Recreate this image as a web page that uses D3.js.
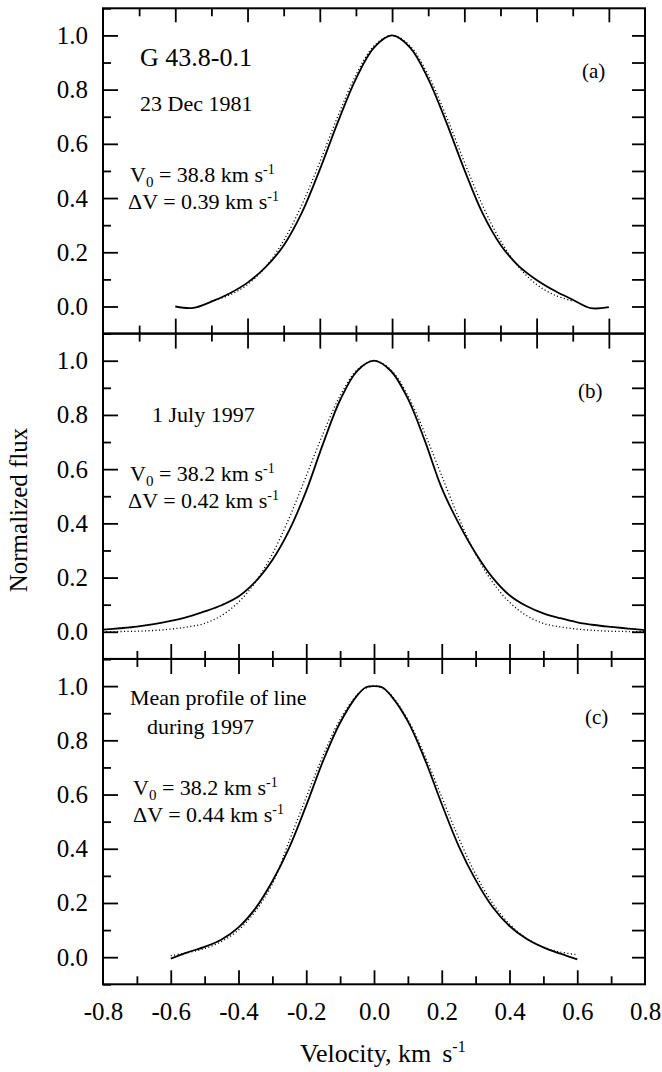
<!DOCTYPE html>
<html>
<head>
<meta charset="utf-8">
<script src="https://cdn.jsdelivr.net/npm/d3@7"></script>
<style>
  html, body { margin: 0; padding: 0; background: #fff; }
  svg { display: block; }
  text { font-family: "Liberation Serif", "Times New Roman", serif; fill: #000; }
</style>
</head>
<body>
<svg id="chart" width="662" height="1072"></svg>
<script>
// ---- Panel (a): 23 Dec 1981 ----
const velA = [-0.60,-0.55,-0.50,-0.45,-0.40,-0.35,-0.30,-0.25,-0.20,-0.15,-0.10,-0.05,0.00,
              0.05,0.10,0.15,0.20,0.25,0.30,0.35,0.40,0.45,0.50,0.55,0.60];
const obsA = [0.000,-0.005,0.018,0.048,0.088,0.145,0.225,0.345,0.505,0.680,0.840,0.955,1.000,
              0.955,0.840,0.680,0.505,0.345,0.228,0.150,0.098,0.058,0.025,-0.006,-0.002];
const velFitA = [-0.50,-0.45,-0.40,-0.35,-0.30,-0.25,-0.20,-0.15,-0.10,-0.05,0.00,
                 0.05,0.10,0.15,0.20,0.25,0.30,0.35,0.40,0.45,0.50];
const fitA = [0.020,0.042,0.081,0.146,0.243,0.374,0.533,0.702,0.854,0.961,1.000,
              0.961,0.854,0.702,0.533,0.374,0.243,0.146,0.081,0.042,0.020];

// ---- Panel (b): 1 July 1997 ----
const velB = [-0.80,-0.75,-0.70,-0.65,-0.60,-0.55,-0.50,-0.45,-0.40,-0.35,-0.30,-0.25,-0.20,-0.15,-0.10,-0.05,0.00,
              0.05,0.10,0.15,0.20,0.25,0.30,0.35,0.40,0.45,0.50,0.55,0.60,0.65,0.70,0.75,0.80];
const obsB = [0.008,0.013,0.019,0.028,0.040,0.055,0.075,0.098,0.130,0.185,0.265,0.375,0.520,0.695,0.855,0.962,1.000,
              0.962,0.860,0.705,0.530,0.400,0.290,0.200,0.135,0.095,0.068,0.050,0.035,0.025,0.018,0.012,0.006];
const fitB = [0.000,0.001,0.002,0.005,0.010,0.018,0.031,0.060,0.109,0.183,0.287,0.421,0.575,0.732,0.871,0.966,1.000,
              0.966,0.871,0.732,0.575,0.421,0.287,0.183,0.109,0.060,0.031,0.018,0.010,0.005,0.002,0.001,0.000];

// ---- Panel (c): mean profile during 1997 ----
const velC = [-0.60,-0.55,-0.50,-0.45,-0.40,-0.35,-0.30,-0.25,-0.20,-0.15,-0.10,-0.05,-0.025,0.00,
              0.025,0.05,0.10,0.15,0.20,0.25,0.30,0.35,0.40,0.45,0.50,0.55,0.60];
const obsC = [-0.005,0.018,0.038,0.065,0.110,0.180,0.280,0.405,0.560,0.725,0.865,0.965,0.995,1.000,
              0.995,0.965,0.870,0.730,0.565,0.410,0.285,0.185,0.115,0.068,0.036,0.013,-0.008];
const fitC = [0.006,0.017,0.032,0.058,0.100,0.170,0.270,0.430,0.590,0.745,0.877,0.968,0.992,1.000,
              0.992,0.968,0.877,0.744,0.591,0.440,0.306,0.199,0.122,0.070,0.037,0.019,0.009];

// ---- Axis ticks and labels ----
const velTicksA = [-0.7,-0.6,-0.5,-0.4,-0.3,-0.2,-0.1,0.0,0.1,0.2,0.3,0.4,0.5,0.6];
const velTicks = [-0.7,-0.6,-0.5,-0.4,-0.3,-0.2,-0.1,0.0,0.1,0.2,0.3,0.4,0.5,0.6,0.7];
const velLabelValues = [-0.8,-0.6,-0.4,-0.2,0.0,0.2,0.4,0.6,0.8];
const velLabels = ["-0.8","-0.6","-0.4","-0.2","0.0","0.2","0.4","0.6","0.8"];
const fluxMajor = [0.0,0.2,0.4,0.6,0.8,1.0];
const fluxLabels = ["0.0","0.2","0.4","0.6","0.8","1.0"];
const fluxMinor = [-0.1,0.1,0.3,0.5,0.7,0.9,1.1];
const fluxRight = [0.0,0.1,0.2,0.3,0.4,0.5,0.6,0.7,0.8,0.9,1.0];

// ---- Layout ----
const svg = d3.select("#chart");
const left = 103, right = 645;
const panelTops = [8.3, 333.6, 659];
const panelH = 325.3;
const FONT = "'Liberation Serif','Times New Roman',serif";
const TICK_FONT = 25;

const xA = d3.scaleLinear().domain([-0.8, 0.7]).range([left, right]);
const xBC = d3.scaleLinear().domain([-0.8, 0.8]).range([left, right]);

const panels = [
  { x: xA,  top: panelTops[0], vObs: velA, obs: obsA, vFit: velFitA, fit: fitA },
  { x: xBC, top: panelTops[1], vObs: velB, obs: obsB, vFit: velB,    fit: fitB },
  { x: xBC, top: panelTops[2], vObs: velC, obs: obsC, vFit: velC,    fit: fitC }
];

const isMajor = v => Math.round(v * 10) % 2 === 0;

function tickAxis(gen, scale, values, size, transform) {
  const g = svg.append("g").attr("transform", transform);
  g.call(gen(scale).tickValues(values).tickSize(size).tickSizeOuter(0).tickFormat(""));
  g.select(".domain").remove();
  g.selectAll("line").attr("stroke", "#000").attr("stroke-width", 1.8);
  return g;
}

panels.forEach(p => {
  const y = d3.scaleLinear().domain([-0.1, 1.1]).range([p.top + panelH, p.top]);
  p.y = y;

  // left axis: inward ticks and labels
  tickAxis(d3.axisRight, y, fluxMajor, 15, `translate(${left},0)`);
  tickAxis(d3.axisRight, y, fluxMinor, 8, `translate(${left},0)`);
  const lab = svg.append("g").attr("transform", `translate(${left},0)`)
    .call(d3.axisLeft(y).tickValues(fluxMajor).tickSize(0).tickPadding(15)
      .tickFormat((d, i) => fluxLabels[i]));
  lab.select(".domain").remove();
  lab.attr("font-family", FONT).attr("font-size", TICK_FONT);

  // right axis: equal inward ticks
  tickAxis(d3.axisLeft, y, fluxRight, 13, `translate(${right},0)`);

  // curves: dotted fit under the solid profile
  const line = d3.line()
    .x(d => p.x(d[0])).y(d => y(d[1]))
    .curve(d3.curveCatmullRom.alpha(0.5));
  svg.append("path")
    .attr("d", line(d3.zip(p.vFit, p.fit)))
    .attr("fill", "none").attr("stroke", "#000")
    .attr("stroke-width", 1.3).attr("stroke-dasharray", "1.1,2.4");
  svg.append("path")
    .attr("d", line(d3.zip(p.vObs, p.obs)))
    .attr("fill", "none").attr("stroke", "#000")
    .attr("stroke-width", 1.8);

  // frame
  svg.append("rect")
    .attr("x", left).attr("y", p.top)
    .attr("width", right - left).attr("height", panelH)
    .attr("fill", "none").attr("stroke", "#000").attr("stroke-width", 2);
});

// horizontal ticks on every panel border
const majA = velTicksA.filter(isMajor), minA = velTicksA.filter(v => !isMajor(v));
const maj = velTicks.filter(isMajor), mn = velTicks.filter(v => !isMajor(v));
const yTop = panelTops[0], yAB = panelTops[1], yBC = panelTops[2], yBot = panelTops[2] + panelH;

// top of panel (a): inward
tickAxis(d3.axisBottom, xA, majA, 14, `translate(0,${yTop})`);
tickAxis(d3.axisBottom, xA, minA, 8, `translate(0,${yTop})`);
// border (a)/(b): crossing
[d3.axisBottom, d3.axisTop].forEach(gen => {
  tickAxis(gen, xA, majA, 15, `translate(0,${yAB})`);
  tickAxis(gen, xA, minA, 8, `translate(0,${yAB})`);
});
// border (b)/(c): crossing
[d3.axisBottom, d3.axisTop].forEach(gen => {
  tickAxis(gen, xBC, maj, 15, `translate(0,${yBC})`);
  tickAxis(gen, xBC, mn, 8, `translate(0,${yBC})`);
});
// bottom of panel (c): inward
tickAxis(d3.axisTop, xBC, maj, 14, `translate(0,${yBot})`);
tickAxis(d3.axisTop, xBC, mn, 8, `translate(0,${yBot})`);
const xl = svg.append("g").attr("transform", `translate(0,${yBot})`)
  .call(d3.axisBottom(xBC).tickValues(velLabelValues).tickSize(0).tickPadding(18)
    .tickFormat((d, i) => velLabels[i]));
xl.select(".domain").remove();
xl.attr("font-family", FONT).attr("font-size", TICK_FONT);

// ---- Text annotations ----
function rich(x, y, parts, size) {
  const t = svg.append("text").attr("x", x).attr("y", y).attr("font-size", size);
  let shift = 0;
  parts.forEach(p => {
    const target = p.sub ? 5 : p.sup ? -8 : 0;
    t.append("tspan")
      .attr("dy", target - shift)
      .attr("font-size", p.sub ? 15 : p.sup ? 14 : size)
      .text(p.t);
    shift = target;
  });
  return t;
}

const PARAM = 22;
svg.append("text").attr("x", 140).attr("y", 66).attr("font-size", 26).text("G 43.8-0.1");
svg.append("text").attr("x", 140).attr("y", 111).attr("font-size", PARAM).text("23 Dec 1981");
rich(130, 182, [{t: "V"}, {t: "0", sub: true}, {t: " = 38.8 km s"}, {t: "-1", sup: true}], PARAM);
rich(128, 209, [{t: "ΔV = 0.39 km s"}, {t: "-1", sup: true}], PARAM);
svg.append("text").attr("x", 582).attr("y", 78).attr("font-size", 21).text("(a)");

svg.append("text").attr("x", 152).attr("y", 422).attr("font-size", PARAM).text("1 July 1997");
rich(130, 481, [{t: "V"}, {t: "0", sub: true}, {t: " = 38.2 km s"}, {t: "-1", sup: true}], PARAM);
rich(128, 508, [{t: "ΔV = 0.42 km s"}, {t: "-1", sup: true}], PARAM);
svg.append("text").attr("x", 578).attr("y", 398).attr("font-size", 21).text("(b)");

svg.append("text").attr("x", 130).attr("y", 705).attr("font-size", PARAM).text("Mean profile of line");
svg.append("text").attr("x", 147).attr("y", 734).attr("font-size", PARAM).text("during 1997");
rich(133, 795, [{t: "V"}, {t: "0", sub: true}, {t: " = 38.2 km s"}, {t: "-1", sup: true}], PARAM);
rich(133, 822, [{t: "ΔV = 0.44 km s"}, {t: "-1", sup: true}], PARAM);
svg.append("text").attr("x", 585).attr("y", 724).attr("font-size", 21).text("(c)");

// axis titles
const xt = svg.append("text").attr("x", 300).attr("y", 1062).attr("font-size", 26);
xt.append("tspan").text("Velocity, km");
xt.append("tspan").attr("dx", 11).text("s");
xt.append("tspan").attr("dy", -10).attr("font-size", 16).text("-1");

svg.append("text")
  .attr("transform", "translate(27,510) rotate(-90)")
  .attr("text-anchor", "middle").attr("font-size", 25)
  .text("Normalized flux");
</script>
</body>
</html>
